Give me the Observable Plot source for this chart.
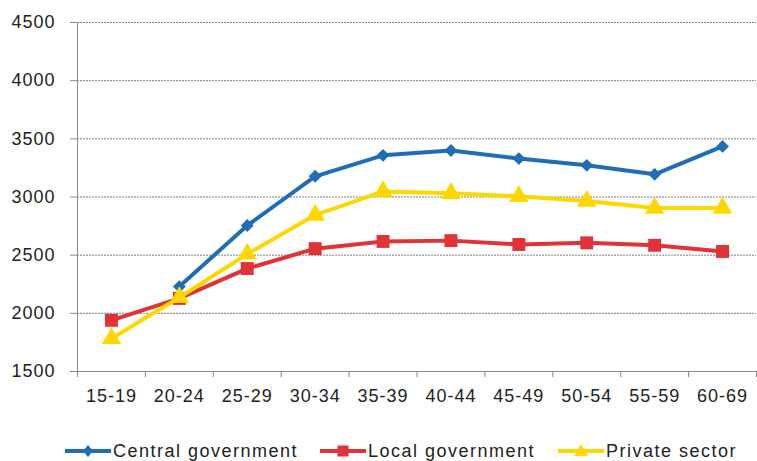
<!DOCTYPE html>
<html>
<head>
<meta charset="utf-8">
<script src="https://cdn.jsdelivr.net/npm/d3@7"></script>
<script src="https://cdn.jsdelivr.net/npm/@observablehq/plot@0.6"></script>
<style>
  html, body { margin: 0; padding: 0; background: #fff; overflow: hidden; }
  #wrap { width: 757px; height: 461px; position: relative; font-family: "Liberation Sans", Arial, sans-serif; color: #222; }
  #legend { position: relative; height: 41px; font-size: 18px; letter-spacing: 1.5px; }
  .item { position: absolute; top: 21px; display: flex; align-items: center; height: 20px; white-space: nowrap; }
  .item svg { display: block; margin-right: 2px; }
</style>
</head>
<body>
<div id="wrap"><div id="chart"></div><div id="legend"></div></div>
<script>
const categories = ["15-19","20-24","25-29","30-34","35-39","40-44","45-49","50-54","55-59","60-69"];
const central = [null, 2230, 2755, 3178, 3358, 3400, 3330, 3272, 3195, 3435];
const local = [1940, 2128, 2385, 2556, 2618, 2625, 2592, 2606, 2585, 2532];
const privateSector = [1784, 2136, 2510, 2845, 3048, 3032, 3006, 2965, 2905, 2905];
const seriesNames = ["Central government", "Local government", "Private sector"];
const seriesColors = ["#1f6db6", "#df3338", "#ffd700"];
const seriesSymbols = ["diamond2", "square", "triangle"];
const yTicks = [1500, 2000, 2500, 3000, 3500, 4000, 4500];

const allSeries = [central, local, privateSector];
const data = allSeries.flatMap((vals, s) =>
  vals.map((v, i) => ({series: seriesNames[s], i, cat: categories[i], value: v})).filter(d => d.value != null)
);

const bounds = d3.range(categories.length + 1).map(k => k - 0.5);
const marks = [
  Plot.gridY(yTicks, {stroke: "#7f7f7f", strokeOpacity: 1, strokeDasharray: "2 1"}),
  Plot.axisY({ticks: yTicks, tickFormat: d => String(d), tickSize: 7, tickPadding: 15, stroke: "#8a8a8a", fill: "#222", label: null}),
  Plot.axisX({ticks: d3.range(categories.length), tickFormat: i => categories[i], tickSize: 0, tickPadding: 18, fill: "#222", label: null}),
  Plot.axisX({ticks: bounds, tickFormat: () => "", tickSize: 6, stroke: "#8a8a8a", label: null}),
  Plot.ruleX([bounds[0]], {stroke: "#8a8a8a"}),
  Plot.ruleY([yTicks[0]], {stroke: "#8a8a8a"})
];
seriesNames.forEach((name, s) => {
  const d = data.filter(r => r.series === name);
  marks.push(Plot.line(d, {x: "i", y: "value", stroke: seriesColors[s], strokeWidth: 4}));
  const r = s === 0 ? 5.8 : (s === 1 ? 7.3 : 7.2);
  marks.push(Plot.dot(d, {x: "i", y: "value", symbol: seriesSymbols[s], fill: seriesColors[s], stroke: "none", r}));
});

const chart = Plot.plot({
  width: 757,
  height: 420,
  marginTop: 22,
  marginBottom: 49,
  marginLeft: 77,
  marginRight: 1,
  x: {domain: [bounds[0], bounds[bounds.length - 1]], axis: null},
  y: {domain: [yTicks[0], yTicks[yTicks.length - 1]], axis: null},
  style: {fontFamily: "'Liberation Sans', Arial, sans-serif", fontSize: "18px", letterSpacing: "1px", color: "#222", background: "#fff"},
  marks
});
document.getElementById("chart").appendChild(chart);

// legend
const legendLeft = [65, 320, 558];
const legend = document.getElementById("legend");
seriesNames.forEach((name, s) => {
  const item = document.createElement("div");
  item.className = "item";
  item.style.left = legendLeft[s] + "px";
  const c = seriesColors[s];
  let marker;
  if (s === 0) marker = `<path d="M23,4 L28,10 L23,16 L18,10 Z" fill="${c}"/>`;
  else if (s === 1) marker = `<rect x="17.5" y="4.5" width="11" height="11" fill="${c}"/>`;
  else marker = `<path d="M23,3 L30,15 L16,15 Z" fill="${c}"/>`;
  item.innerHTML = `<svg width="46" height="20"><line x1="0" x2="46" y1="10" y2="10" stroke="${c}" stroke-width="4"/>${marker}</svg><span>${name}</span>`;
  legend.appendChild(item);
});
</script>
</body>
</html>
